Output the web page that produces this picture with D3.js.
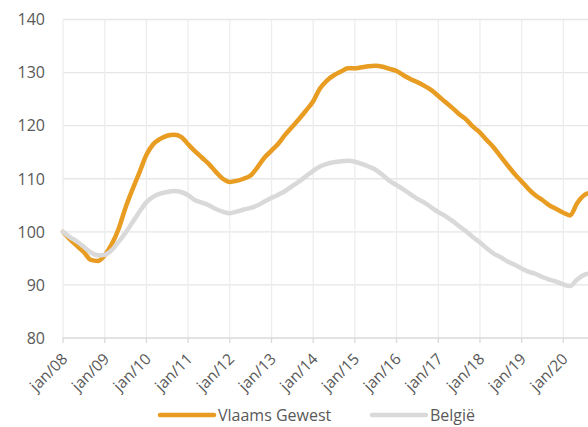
<!DOCTYPE html>
<html>
<head>
<meta charset="utf-8">
<script src="https://cdn.jsdelivr.net/npm/d3@7"></script>
<style>
  body { margin: 0; background: #fff; }
  text { font-family: "Open Sans", sans-serif; fill: #595959; }
</style>
</head>
<body>
<div id="chart"></div>
<script>
// Index (jan/08 = 100), one reading every two months from jan/08
var startMonth = "2008-01";
var yTicks = [80, 90, 100, 110, 120, 130, 140];
var xTickLabels = ["jan/08", "jan/09", "jan/10", "jan/11", "jan/12", "jan/13", "jan/14",
                   "jan/15", "jan/16", "jan/17", "jan/18", "jan/19", "jan/20"];
var seriesNames = ["Vlaams Gewest", "België"];

var vlaamsGewest = [100, 98.6, 97.4, 96.2, 94.7, 94.5, 95.6, 97.6, 100.5, 104.5,
  108, 111.2, 114.5, 116.5, 117.5, 118.1, 118.3, 117.9, 116.5, 115.2,
  114, 112.8, 111.3, 110, 109.4, 109.6, 110, 110.6, 112.2, 114,
  115.3, 116.6, 118.3, 119.8, 121.3, 122.9, 124.6, 127, 128.5, 129.5,
  130.2, 130.8, 130.8, 131, 131.2, 131.3, 131.1, 130.7, 130.3, 129.5,
  128.8, 128.2, 127.5, 126.7, 125.6, 124.5, 123.4, 122.2, 121.2, 119.8,
  118.7, 117.3, 115.9, 114.2, 112.5, 110.9, 109.5, 108.1, 106.9, 106,
  105, 104.3, 103.6, 103.1, 105.4, 106.9, 107.4];

var belgie = [100, 99, 98.2, 97.2, 96.1, 95.6, 95.7, 96.5, 98.1, 99.8,
  101.8, 103.8, 105.6, 106.6, 107.2, 107.5, 107.7, 107.5, 106.9, 106,
  105.5, 105, 104.3, 103.8, 103.5, 103.8, 104.2, 104.5, 105, 105.7,
  106.4, 107, 107.7, 108.6, 109.5, 110.5, 111.5, 112.3, 112.8, 113.1,
  113.3, 113.4, 113.2, 112.8, 112.3, 111.7, 110.7, 109.6, 108.8, 108,
  107.1, 106.2, 105.5, 104.6, 103.7, 103, 102.1, 101.1, 100.1, 99,
  98, 96.9, 95.9, 95.2, 94.4, 93.8, 93.1, 92.5, 92.1, 91.5,
  91.0, 90.6, 90.1, 89.8, 91.0, 91.9, 92.2];

var colors = ["#E89C21", "#D9D9D9"];

var width = 588, height = 427;
var margin = { top: 19.5, left: 63, bottom: 89 };
var plotBottom = height - margin.bottom; // 338

var parseMonth = d3.timeParse("%Y-%m");
var start = parseMonth(startMonth);
var months = vlaamsGewest.map(function(d, i) { return d3.timeMonth.offset(start, i * 2); });
var years = xTickLabels.map(function(d, i) { return d3.timeYear.offset(start, i); });

var x = d3.scaleTime()
    .domain([start, d3.timeYear.offset(start, 12)])
    .range([margin.left, 563.3]);

var y = d3.scaleLinear()
    .domain([80, 140])
    .range([plotBottom, margin.top]);

var svg = d3.select("#chart").append("svg")
    .attr("width", width)
    .attr("height", height);

// Gridlines
svg.append("g").selectAll("line")
    .data(yTicks.slice(1))
  .enter().append("line")
    .attr("x1", margin.left).attr("x2", width)
    .attr("y1", function(d) { return y(d); })
    .attr("y2", function(d) { return y(d); })
    .style("stroke", "#e6e6e6")
    .style("stroke-width", 1.3);

svg.append("g").selectAll("line")
    .data(years)
  .enter().append("line")
    .attr("x1", function(d) { return x(d); })
    .attr("x2", function(d) { return x(d); })
    .attr("y1", margin.top).attr("y2", plotBottom)
    .style("stroke", "#ededed")
    .style("stroke-width", 1.3);

// x axis line and ticks
svg.append("line")
    .attr("x1", margin.left).attr("x2", width)
    .attr("y1", plotBottom).attr("y2", plotBottom)
    .style("stroke", "#d9d9d9")
    .style("stroke-width", 1.5);

svg.append("g").selectAll("line")
    .data(years)
  .enter().append("line")
    .attr("x1", function(d) { return x(d); })
    .attr("x2", function(d) { return x(d); })
    .attr("y1", plotBottom).attr("y2", plotBottom + 5)
    .style("stroke", "#d9d9d9")
    .style("stroke-width", 1.3);

// Tick labels
svg.append("g").selectAll("text")
    .data(yTicks)
  .enter().append("text")
    .attr("x", 45)
    .attr("y", function(d) { return y(d); })
    .attr("dy", "0.36em")
    .style("text-anchor", "end")
    .style("font-size", "16px")
    .text(function(d) { return d; });

svg.append("g").selectAll("text")
    .data(years)
  .enter().append("text")
    .attr("transform", function(d) {
      return "translate(" + (x(d) + 5.5) + "," + (plotBottom + 22) + ") rotate(-45)";
    })
    .style("text-anchor", "end")
    .style("font-size", "15.5px")
    .text(function(d, i) { return xTickLabels[i]; });

// Lines
var line = d3.line()
    .x(function(d, i) { return x(months[i]); })
    .y(function(d) { return y(d); })
    .curve(d3.curveMonotoneX);

[vlaamsGewest, belgie].forEach(function(values, k) {
  svg.append("path")
      .datum(values)
      .attr("d", line)
      .style("fill", "none")
      .style("stroke", colors[k])
      .style("stroke-width", 4.5)
      .style("stroke-linejoin", "round")
      .style("stroke-linecap", "round");
});

// Legend
var legendX = [160, 372];
var legend = svg.append("g").selectAll("g")
    .data(seriesNames)
  .enter().append("g")
    .attr("transform", function(d, i) { return "translate(" + legendX[i] + ",415)"; });

legend.append("line")
    .attr("x1", 0).attr("x2", 54)
    .style("stroke", function(d, i) { return colors[i]; })
    .style("stroke-width", 4.5)
    .style("stroke-linecap", "round");

legend.append("text")
    .attr("x", 58)
    .attr("dy", "0.36em")
    .style("font-size", "16px")
    .text(function(d) { return d; });
</script>
</body>
</html>
